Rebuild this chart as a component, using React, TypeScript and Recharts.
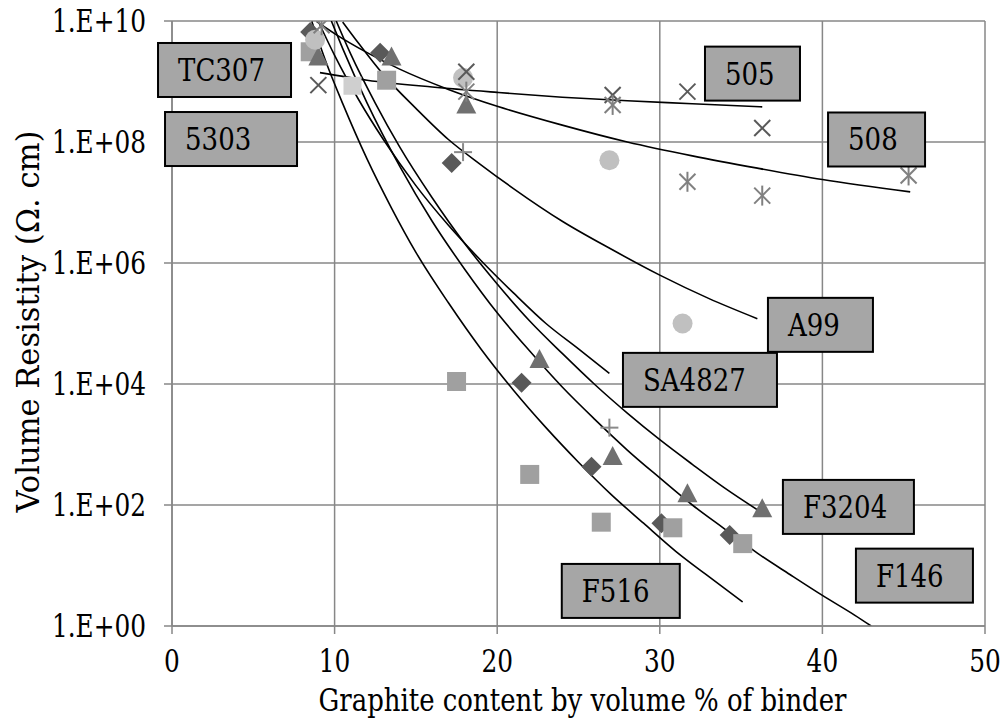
import { ComposedChart, Line, Scatter, XAxis, YAxis, CartesianGrid, ReferenceDot, Label } from "recharts"

const xTicks = [0, 10, 20, 30, 40, 50]
const yTicks = [1, 1e2, 1e4, 1e6, 1e8, 1e10]

// measured points (x = graphite vol %, y = resistivity ohm.cm)
const diamondPts = [
  { x: 8.5, y: 6.6e9 },
  { x: 12.8, y: 3.0e9 },
  { x: 17.2, y: 4.5e7 },
  { x: 21.5, y: 1.05e4 },
  { x: 25.8, y: 430 },
  { x: 30.1, y: 50 },
  { x: 34.3, y: 32 },
]
const squarePts = [
  { x: 8.5, y: 3.1e9 },
  { x: 13.2, y: 1.05e9 },
  { x: 17.5, y: 1.1e4 },
  { x: 22.0, y: 320 },
  { x: 26.4, y: 52 },
  { x: 30.8, y: 42 },
  { x: 35.1, y: 23 },
]
const trianglePts = [
  { x: 9.0, y: 2.5e9 },
  { x: 13.5, y: 2.5e9 },
  { x: 18.1, y: 4.0e8 },
  { x: 22.6, y: 2.5e4 },
  { x: 27.1, y: 620 },
  { x: 31.7, y: 150 },
  { x: 36.3, y: 85 },
]
const circlePts = [
  { x: 8.8, y: 4.9e9 },
  { x: 17.9, y: 1.15e9 },
  { x: 26.9, y: 5.0e7 },
  { x: 31.4, y: 1.0e5 },
]
const crossPts = [
  { x: 9.0, y: 8.7e8 },
  { x: 18.1, y: 1.45e9 },
  { x: 27.1, y: 6.0e8 },
  { x: 31.7, y: 6.8e8 },
  { x: 36.3, y: 1.7e8 },
]
const starPts = [
  { x: 9.2, y: 8.5e9 },
  { x: 18.1, y: 6.8e8 },
  { x: 27.1, y: 4.1e8 },
  { x: 31.7, y: 2.2e7 },
  { x: 36.3, y: 1.3e7 },
  { x: 45.3, y: 2.8e7 },
]
const plusPts = [
  { x: 17.9, y: 6.8e7 },
  { x: 26.9, y: 1.9e3 },
]
const paleSquarePts = [{ x: 11.1, y: 8.5e8 }]

// trendlines
const fit505 = [
  { x: 9.1, y: 1.4e9 }, { x: 12, y: 1.05e9 }, { x: 16, y: 8.1e8 }, { x: 20, y: 6.6e8 },
  { x: 24, y: 5.5e8 }, { x: 28, y: 4.8e8 }, { x: 32, y: 4.3e8 }, { x: 36.3, y: 3.8e8 },
]
const fit508 = [
  { x: 8.9, y: 9.8e9 }, { x: 10, y: 6.2e9 }, { x: 12, y: 3.0e9 }, { x: 14, y: 1.6e9 },
  { x: 17, y: 7.4e8 }, { x: 20, y: 3.9e8 }, { x: 24, y: 1.9e8 }, { x: 28, y: 1.0e8 },
  { x: 32, y: 5.9e7 }, { x: 36, y: 3.7e7 }, { x: 40, y: 2.4e7 }, { x: 45.4, y: 1.5e7 },
]
const fitA99 = [
  { x: 10.5, y: 9.6e9 }, { x: 11.5, y: 4.2e9 }, { x: 13, y: 1.3e9 }, { x: 15, y: 3.6e8 },
  { x: 17, y: 1.1e8 }, { x: 19, y: 4.2e7 }, { x: 21, y: 1.7e7 }, { x: 24, y: 4.9e6 },
  { x: 27, y: 1.7e6 }, { x: 30, y: 6.3e5 }, { x: 33, y: 2.6e5 }, { x: 36, y: 1.2e5 },
]
const fitSA4827 = [
  { x: 9, y: 9.8e9 }, { x: 10, y: 2.7e9 }, { x: 11.5, y: 4.9e8 }, { x: 13, y: 1.1e8 },
  { x: 15, y: 1.9e7 }, { x: 17, y: 4.2e6 }, { x: 19, y: 1.1e6 }, { x: 21, y: 3.2e5 },
  { x: 23, y: 1.0e5 }, { x: 25, y: 3.8e4 }, { x: 26.9, y: 1.5e4 },
]
const fitF3204 = [
  { x: 10.1, y: 1.0e10 }, { x: 11, y: 2.8e9 }, { x: 12.5, y: 4.4e8 }, { x: 14, y: 8.3e7 },
  { x: 16, y: 1.2e7 }, { x: 18, y: 2.1e6 }, { x: 20, y: 4.5e5 }, { x: 22, y: 1.1e5 },
  { x: 24, y: 3.2e4 }, { x: 26, y: 9.8e3 }, { x: 28, y: 3.3e3 }, { x: 30, y: 1.2e3 },
  { x: 32, y: 470 }, { x: 34, y: 190 }, { x: 36.3, y: 74 },
]
const fitF146 = [
  { x: 9.8, y: 1.0e10 }, { x: 10.5, y: 3.5e9 }, { x: 12, y: 4.4e8 }, { x: 14, y: 4.0e7 },
  { x: 16, y: 4.9e6 }, { x: 18, y: 7.9e5 }, { x: 20, y: 1.5e5 }, { x: 22, y: 3.5e4 },
  { x: 24, y: 8.9e3 }, { x: 26, y: 2.6e3 }, { x: 28, y: 810 }, { x: 30, y: 280 },
  { x: 32, y: 100 }, { x: 34, y: 40 }, { x: 36, y: 16 }, { x: 38, y: 7.1 },
  { x: 40, y: 3.2 }, { x: 42, y: 1.5 }, { x: 43, y: 1.0 },
]
const fitF516 = [
  { x: 8.6, y: 9.8e9 }, { x: 9.5, y: 2.0e9 }, { x: 10.5, y: 4.3e8 }, { x: 12, y: 5.2e7 },
  { x: 13.5, y: 8.1e6 }, { x: 15, y: 1.5e6 }, { x: 17, y: 2.2e5 }, { x: 19, y: 3.8e4 },
  { x: 21, y: 7.9e3 }, { x: 23, y: 1.9e3 }, { x: 25, y: 510 }, { x: 27, y: 150 },
  { x: 29, y: 50 }, { x: 31, y: 17 }, { x: 33, y: 6.6 }, { x: 35.1, y: 2.5 },
]
const fits = [fit505, fit508, fitA99, fitSA4827, fitF3204, fitF146, fitF516]

// text boxes: name, centre in data units
const boxNames = ["TC307", "5303", "505", "508", "A99", "SA4827", "F3204", "F146", "F516"]
const boxX = [3.23, 3.63, 35.7, 43.33, 39.88, 32.47, 41.6, 45.66, 27.6]
const boxY = [1.55e9, 1.12e8, 1.35e9, 1.1e8, 9.5e4, 1.17e4, 93, 6.8, 3.8]
const boxW = [133, 132, 95, 97, 105, 154, 131, 117, 118]

// only DejaVu Serif is available as a serif face; squeeze it toward Times widths
const FONT = "DejaVu Serif"
const SQ = 0.8
const GRID = "#878787"

const Diamond = ({ cx, cy }: any) => (
  <polygon points={`${cx},${cy - 10} ${cx + 10},${cy} ${cx},${cy + 10} ${cx - 10},${cy}`} fill="#595959" />
)
const Square = ({ cx, cy }: any) => <rect x={cx - 9.5} y={cy - 9.5} width={19} height={19} fill="#a0a0a0" />
const PaleSquare = ({ cx, cy }: any) => <rect x={cx - 9} y={cy - 9} width={18} height={18} fill="#cfcfcf" />
const Triangle = ({ cx, cy }: any) => (
  <polygon points={`${cx},${cy - 11} ${cx + 10},${cy + 8} ${cx - 10},${cy + 8}`} fill="#707070" />
)
const Circle = ({ cx, cy }: any) => <circle cx={cx} cy={cy} r={10} fill="#c0c0c0" />
const XMark = ({ cx, cy }: any) => (
  <g stroke="#595959" strokeWidth={2}>
    <line x1={cx - 8} y1={cy - 8} x2={cx + 8} y2={cy + 8} />
    <line x1={cx - 8} y1={cy + 8} x2={cx + 8} y2={cy - 8} />
  </g>
)
const Star = ({ cx, cy }: any) => (
  <g stroke="#808080" strokeWidth={2}>
    <line x1={cx - 8} y1={cy - 8} x2={cx + 8} y2={cy + 8} />
    <line x1={cx - 8} y1={cy + 8} x2={cx + 8} y2={cy - 8} />
    <line x1={cx} y1={cy - 10} x2={cx} y2={cy + 10} />
  </g>
)
const Plus = ({ cx, cy }: any) => (
  <g stroke="#8a8a8a" strokeWidth={2}>
    <line x1={cx - 9} y1={cy} x2={cx + 9} y2={cy} />
    <line x1={cx} y1={cy - 9} x2={cx} y2={cy + 9} />
  </g>
)

const expLabel = (v: number) => {
  const e = Math.round(Math.log10(v))
  return `1.E+${String(e).padStart(2, "0")}`
}

const XTick = ({ x, y, payload }: any) => (
  <text
    transform={`translate(${x} ${y}) scale(${SQ} 1)`}
    textAnchor="middle"
    dy="0.74em"
    fontSize={31}
    fontFamily={FONT}
    fill="#000"
  >
    {payload.value}
  </text>
)
const YTick = ({ x, y, payload }: any) => (
  <text
    transform={`translate(${x} ${y}) scale(${SQ} 1)`}
    textAnchor="end"
    dy="0.36em"
    fontSize={31}
    fontFamily={FONT}
    fill="#000"
  >
    {expLabel(payload.value)}
  </text>
)

export default function App() {
  return (
    <div style={{ position: "absolute", left: 0, top: 0, background: "#fff" }}>
      <ComposedChart width={1006} height={727} margin={{ top: 21, right: 21, bottom: 0, left: 0 }}>
        <CartesianGrid stroke={GRID} strokeWidth={1.5} horizontal vertical />
        <XAxis
          type="number"
          dataKey="x"
          domain={[0, 50]}
          ticks={xTicks}
          height={101}
          stroke={GRID}
          strokeWidth={1.5}
          tickSize={8}
          tick={XTick}
          tickMargin={15}
          allowDataOverflow
        >
          <Label
            content={({ viewBox }: any) => (
              <text
                x={viewBox.x + viewBox.width / 2 + 4}
                y={viewBox.y + 85}
                textAnchor="middle"
                fontSize={31}
                fontFamily={FONT}
                textLength={528}
                lengthAdjust="spacingAndGlyphs"
                fill="#000"
              >
                Graphite content by volume % of binder
              </text>
            )}
          />
        </XAxis>
        <YAxis
          type="number"
          dataKey="y"
          scale="log"
          domain={[1, 1e10]}
          ticks={yTicks}
          width={172}
          stroke={GRID}
          strokeWidth={1.5}
          tickSize={8}
          tickMargin={18}
          tick={YTick}
          allowDataOverflow
        >
          <Label
            content={({ viewBox }: any) => {
              const cx = 28
              const cy = viewBox.y + viewBox.height / 2 - 2
              return (
                <text
                  x={cx}
                  y={cy}
                  transform={`rotate(-90 ${cx} ${cy})`}
                  textAnchor="middle"
                  dominantBaseline="central"
                  fontSize={31}
                  fontFamily={FONT}
                  textLength={382}
                  lengthAdjust="spacingAndGlyphs"
                  fill="#000"
                >
                  Volume Resistity (Ω. cm)
                </text>
              )
            }}
          />
        </YAxis>
        <Scatter data={diamondPts} shape={Diamond} isAnimationActive={false} />
        <Scatter data={squarePts} shape={Square} isAnimationActive={false} />
        <Scatter data={paleSquarePts} shape={PaleSquare} isAnimationActive={false} />
        <Scatter data={trianglePts} shape={Triangle} isAnimationActive={false} />
        <Scatter data={circlePts} shape={Circle} isAnimationActive={false} />
        <Scatter data={crossPts} shape={XMark} isAnimationActive={false} />
        <Scatter data={starPts} shape={Star} isAnimationActive={false} />
        <Scatter data={plusPts} shape={Plus} isAnimationActive={false} />
        {fits.map((d, i) => (
          <Line
            key={i}
            data={d}
            dataKey="y"
            type="monotone"
            stroke="#000"
            strokeWidth={1.6}
            dot={false}
            activeDot={false}
            isAnimationActive={false}
          />
        ))}
        {boxNames.map((name, i) => (
          <ReferenceDot
            key={name}
            x={boxX[i]}
            y={boxY[i]}
            ifOverflow="visible"
            shape={({ cx, cy }: any) => (
              <g>
                <rect
                  x={cx - boxW[i] / 2}
                  y={cy - 27}
                  width={boxW[i]}
                  height={54}
                  fill="#a6a6a6"
                  stroke="#000"
                  strokeWidth={2}
                />
                <text
                  transform={`translate(${cx - boxW[i] / 2 + 20} ${cy + 11}) scale(0.84 1)`}
                  fontSize={31}
                  fontFamily={FONT}
                  fill="#000"
                >
                  {name}
                </text>
              </g>
            )}
          />
        ))}
      </ComposedChart>
    </div>
  )
}
